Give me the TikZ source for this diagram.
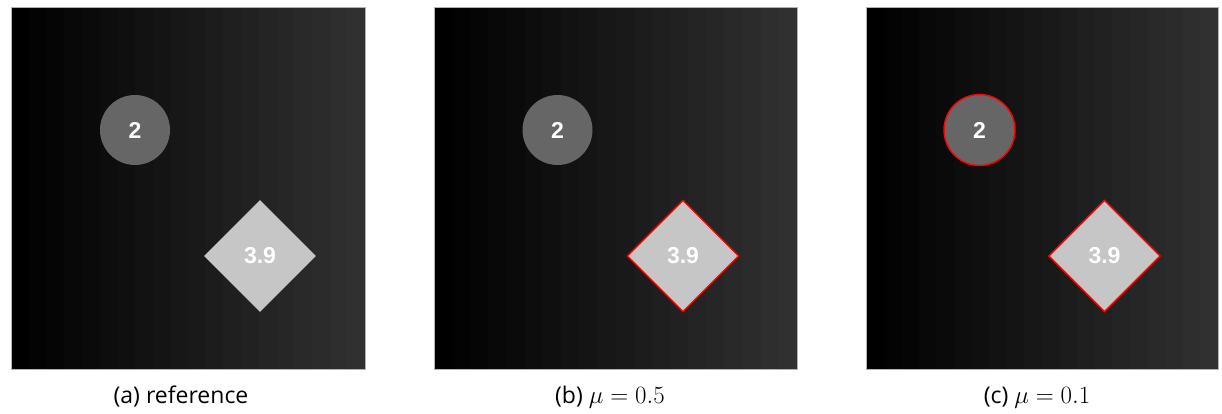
\documentclass[tikz,border=0pt]{standalone}
\usepackage{fontspec}
\setmainfont{Open Sans}
\newfontfamily\numfont{Liberation Sans}
\usetikzlibrary{shapes.geometric}
\tikzset{
  blob/.style={circle, fill=blobgray, minimum size=70pt, inner sep=0pt,
    text=white, font=\numfont\bfseries\fontsize{23}{23}\selectfont},
  gem/.style={diamond, fill=gemgray, minimum width=112pt, minimum height=112pt,
    aspect=1, inner sep=0pt, text=white, font=\numfont\bfseries\fontsize{23}{23}\selectfont},
  contour/.style={draw=red, line width=1.4pt},
  caption/.style={font=\fontsize{23}{23}\selectfont, text=black, anchor=base}
}
\definecolor{blobgray}{HTML}{666666}
\definecolor{gemgray}{HTML}{C6C6C6}
\newcommand{\gradpanel}[3]{%
  % #1 left, #2 right, #3 name
  \foreach \i in {0,...,19}{%
    \pgfmathsetmacro\g{0.19*\i/19}%
    \definecolor{bandc}{gray}{\g}%
    \pgfmathsetmacro\xa{#1+(#2-#1)*\i/20}%
    \pgfmathsetmacro\xb{#1+(#2-#1)*(\i+1)/20}%
    \fill[bandc] (\xa,7) rectangle (\xb+0.3,369);
  }%
  \draw[gray!60, line width=0.6pt] (#1,7) rectangle (#2,369);
  \coordinate (#3) at ({(#1+#2)/2},188);
}
\begin{document}
\begin{tikzpicture}[x=1pt,y=-1pt]
\useasboundingbox (0,0) rectangle (1222,413);
\fill[white] (0,0) rectangle (1222,413);
% panels
\gradpanel{11}{365}{pa}
\gradpanel{434}{797}{pb}
\gradpanel{866}{1218}{pc}
% panel (a)
\node[blob] (ca) at (135,130) {2};
\node[gem] (da) at (260,256) {3.9};
% panel (b)
\node[blob] (cb) at (557.5,130) {2};
\node[gem, contour] (db) at (683,256) {3.9};
% panel (c)
\node[blob, contour, minimum size=71pt] (cc) at (979.5,130) {2};
\node[gem, contour] (dc) at (1104.5,256) {3.9};
% captions
\node[caption] (capa) at (181,403) {(a) reference};
\node[caption] (capb) at (610,403) {(b) $\mu = 0.5$};
\node[caption] (capc) at (1037,403) {(c) $\mu = 0.1$};
\end{tikzpicture}
\end{document}
